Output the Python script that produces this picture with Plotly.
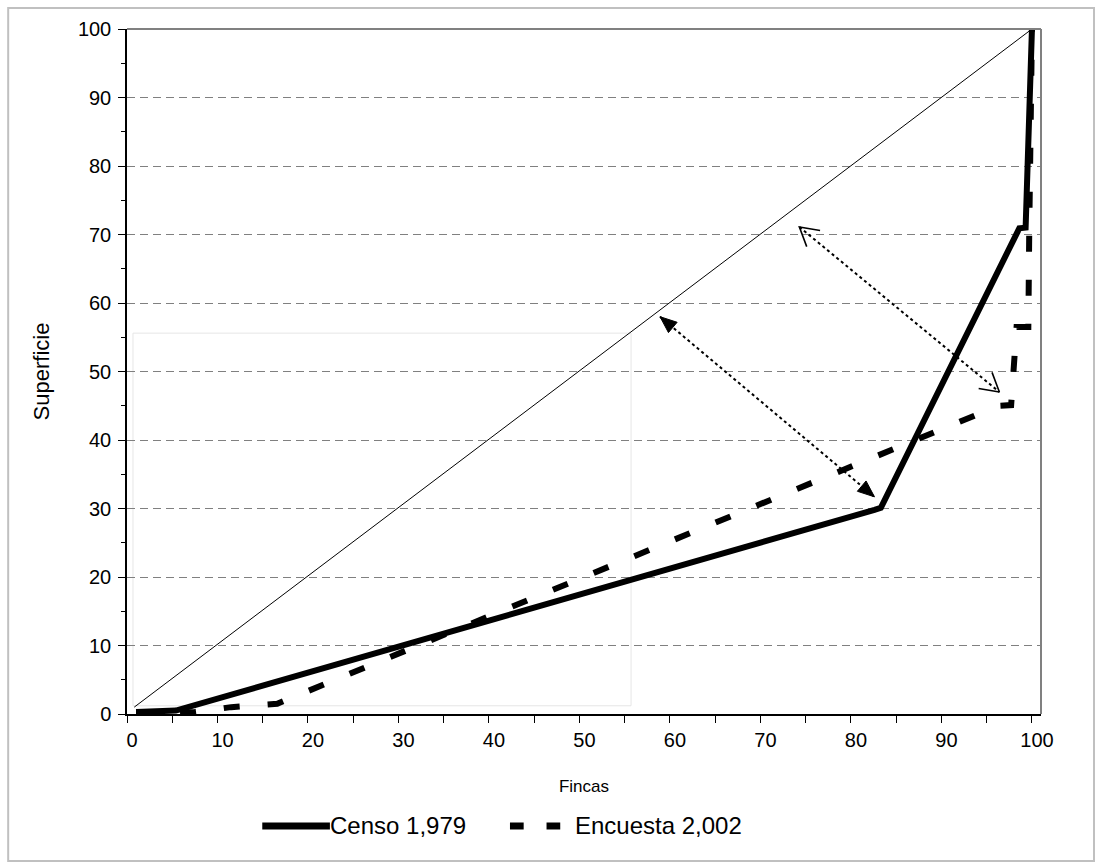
import math
import plotly.graph_objects as go

# ---- data ----
censo_x = [1.0, 5.4, 82.6, 83.3, 98.6, 99.3, 100.0]
censo_y = [0.3, 0.5, 29.8, 30.1, 70.9, 71.0, 100.0]

encuesta_x = [1.0, 7.5, 11.5, 16.6, 96.3, 97.7, 98.3, 99.6, 99.7, 100.0]
encuesta_y = [0.1, 0.3, 1.0, 1.5, 45.0, 45.1, 56.5, 56.5, 70.5, 100.0]

equidad_x = [0.8, 100.0]
equidad_y = [1.0, 100.0]

# double arrows (dotted) : tips
arrow1_x = [58.9, 82.6]
arrow1_y = [58.0, 31.7]
arrow2_x = [74.3, 96.4]
arrow2_y = [71.1, 47.0]

names = ["Censo 1,979", "Encuesta 2,002"]
ticks_y = list(range(0, 101, 10))
ticks_x = list(range(0, 101, 10))

FONT = "Liberation Sans, Arial, sans-serif"

W, H = 1101, 867
ML, MR, MT, MB = 127, 60, 29, 153
XR = [0, 101]
YR = [0, 100]
PX_X = (W - ML - MR) / (XR[1] - XR[0])   # pixels per x unit
PX_Y = (H - MT - MB) / (YR[1] - YR[0])   # pixels per y unit

fig = go.Figure()

# faint empty box
fig.add_shape(type="rect", x0=0.66, x1=55.7, y0=1.2, y1=55.6, xref="x", yref="y",
              line=dict(color="#e6e6e6", width=1), layer="below")

fig.add_trace(go.Scatter(x=equidad_x, y=equidad_y, mode="lines",
                         line=dict(color="black", width=1), showlegend=False, hoverinfo="skip"))
fig.add_trace(go.Scatter(x=encuesta_x, y=encuesta_y, mode="lines", name=names[1],
                         line=dict(color="black", width=6, dash="16px,28px"), showlegend=False))
fig.add_trace(go.Scatter(x=censo_x, y=censo_y, mode="lines", name=names[0],
                         line=dict(color="black", width=6), showlegend=False))
fig.add_trace(go.Scatter(x=arrow1_x, y=arrow1_y, mode="lines",
                         line=dict(color="black", width=2, dash="dot"), showlegend=False, hoverinfo="skip"))
fig.add_trace(go.Scatter(x=arrow2_x, y=arrow2_y, mode="lines",
                         line=dict(color="black", width=2, dash="dot"), showlegend=False, hoverinfo="skip"))


def head_geom(tip_x, tip_y, from_x, from_y, length, half_angle_deg):
    """Return the two barb end points (data units) of an arrow head at tip,
    pointing away from (from_x, from_y)."""
    dxp = (tip_x - from_x) * PX_X
    dyp = (tip_y - from_y) * PX_Y
    n = math.hypot(dxp, dyp)
    ux, uy = dxp / n, dyp / n
    a = math.radians(half_angle_deg)
    pts = []
    for s in (1, -1):
        bx = -ux * math.cos(a) - s * (-uy) * math.sin(a)
        by = -uy * math.cos(a) + s * (-ux) * math.sin(a)
        pts.append((tip_x + bx * length / PX_X, tip_y + by * length / PX_Y))
    return pts


def add_filled_head(tx, ty, fx, fy):
    (x1, y1), (x2, y2) = head_geom(tx, ty, fx, fy, 18, 22)
    fig.add_trace(go.Scatter(x=[tx, x1, x2, tx], y=[ty, y1, y2, ty], mode="lines",
                             fill="toself", fillcolor="black",
                             line=dict(color="black", width=1), showlegend=False, hoverinfo="skip"))


def add_open_head(tx, ty, fx, fy):
    (x1, y1), (x2, y2) = head_geom(tx, ty, fx, fy, 21, 30)
    fig.add_trace(go.Scatter(x=[x1, tx, x2], y=[y1, ty, y2], mode="lines",
                             line=dict(color="black", width=1.6), showlegend=False, hoverinfo="skip"))


add_filled_head(arrow1_x[0], arrow1_y[0], arrow1_x[1], arrow1_y[1])
add_filled_head(arrow1_x[1], arrow1_y[1], arrow1_x[0], arrow1_y[0])
add_open_head(arrow2_x[0], arrow2_y[0], arrow2_x[1], arrow2_y[1])
add_open_head(arrow2_x[1], arrow2_y[1], arrow2_x[0], arrow2_y[0])

annotations = []

# manual legend
leg_y = -0.1635
fig.add_shape(type="line", xref="paper", yref="paper", x0=0.148, x1=0.222, y0=leg_y, y1=leg_y,
              line=dict(color="black", width=7))
fig.add_shape(type="line", xref="paper", yref="paper", x0=0.419, x1=0.434, y0=leg_y, y1=leg_y,
              line=dict(color="black", width=7))
fig.add_shape(type="line", xref="paper", yref="paper", x0=0.459, x1=0.474, y0=leg_y, y1=leg_y,
              line=dict(color="black", width=7))
annotations.append(dict(x=0.220, y=leg_y, xref="paper", yref="paper", text=names[0],
                        showarrow=False, xanchor="left", yanchor="middle",
                        font=dict(family=FONT, size=24, color="black")))
annotations.append(dict(x=0.488, y=leg_y, xref="paper", yref="paper", text=names[1],
                        showarrow=False, xanchor="left", yanchor="middle",
                        font=dict(family=FONT, size=24, color="black")))

# plot-area top/right border (gray)
fig.add_shape(type="line", xref="paper", yref="paper", x0=0, x1=1, y0=1, y1=1,
              line=dict(color="#808080", width=2))
fig.add_shape(type="line", xref="paper", yref="paper", x0=1, x1=1, y0=0, y1=1,
              line=dict(color="#808080", width=2))
# outer chart border
fig.add_shape(type="rect", xref="paper", yref="paper", x0=-0.130, x1=1.058, y0=-0.2146, y1=1.0307,
              line=dict(color="#c0c0c0", width=2))

fig.update_layout(
    width=W, height=H,
    margin=dict(l=ML, r=MR, t=MT, b=MB),
    paper_bgcolor="white", plot_bgcolor="white",
    font=dict(family=FONT, color="black"),
    annotations=annotations,
    showlegend=False,
)
fig.update_xaxes(range=XR, tickvals=ticks_x, ticks="outside", ticklen=7, tickwidth=1,
                 tickcolor="black", showgrid=False, zeroline=False, automargin=False,
                 showline=True, linecolor="black", linewidth=1.5, ticklabelshift=5,
                 minor=dict(dtick=5, ticks="outside", ticklen=7, tickcolor="black", showgrid=False),
                 tickfont=dict(size=20, family=FONT),
                 title=dict(text="Fincas", font=dict(size=17, family=FONT), standoff=30))
fig.update_yaxes(range=YR, tickvals=ticks_y, ticks="outside", ticklen=7, tickwidth=1,
                 tickcolor="black", showgrid=True, gridcolor="#808080", gridwidth=1,
                 griddash="8px,5px", zeroline=False, automargin=False,
                 showline=True, linecolor="black", linewidth=1.5, ticklabelstandoff=3,
                 minor=dict(dtick=5, ticks="outside", ticklen=4, tickcolor="black", showgrid=False),
                 tickfont=dict(size=20, family=FONT),
                 title=dict(text="Superficie", font=dict(size=22, family=FONT), standoff=22))

fig.write_html("out.html", config={"displayModeBar": False},
               post_script="document.body.style.margin='0px';")
